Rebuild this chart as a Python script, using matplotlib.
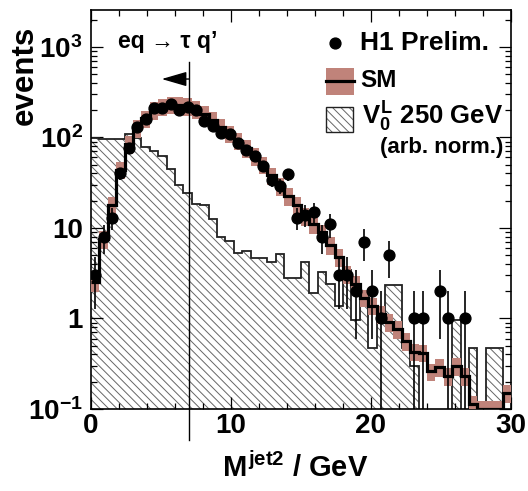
import numpy as np
import matplotlib
matplotlib.use("Agg")
import matplotlib.pyplot as plt
from matplotlib.ticker import FixedLocator, FixedFormatter, MultipleLocator, LogLocator, NullFormatter
from matplotlib.patches import Rectangle
from matplotlib.lines import Line2D

plt.rcParams['font.family'] = ['Liberation Sans', 'DejaVu Sans']
plt.rcParams['font.weight'] = 'bold'
plt.rcParams['mathtext.fontset'] = 'custom'
plt.rcParams['mathtext.rm'] = 'Liberation Sans:bold'
plt.rcParams['mathtext.bf'] = 'Liberation Sans:bold'
plt.rcParams['mathtext.it'] = 'Liberation Sans:bold'
plt.rcParams['hatch.linewidth'] = 0.7

# 50 bins of 0.6 GeV from 0 to 30
edges = np.linspace(0, 30, 51)
centers = 0.5 * (edges[:-1] + edges[1:])

# H1 preliminary data (events per bin)
data = [3, 8, 13, 40, 76, 130, 160, 210, 210, 232,
        200, 215, 200, 150, 132, 113, 109, 86, 73, 62,
        48, 34, 29, 39, 13, 14, 15, 8, 11, 3,
        3, 2, 7, 2, 1, 5, 0, 0, 1, 1,
        0, 2, 1, 0, 1, 0, 0, 0, 0, 0]

# SM expectation
sm = [2.5, 7.5, 18, 44, 85, 127, 162, 200, 220, 230,
      230, 222, 205, 180, 155, 130, 110, 92, 76, 62,
      50, 38, 29, 22.5, 18, 13.5, 11, 8.9, 6.5, 4.8,
      3.1, 2.4, 1.7, 1.39, 1.12, 0.91, 0.77, 0.56, 0.43, 0.42,
      0.26, 0.29, 0.23, 0.3, 0.23, 0.115, 0.1, 0.1, 0.1, 0.15]
sm_rel_unc = 0.22

# V0L 250 GeV signal (arbitrary normalisation)
signal = [98, 96, 96, 96, 109, 98, 78, 70, 62, 45,
          30, 24, 18.5, 18, 12.5, 7.9, 7.1, 5.3, 5.5, 4.6,
          4.6, 4.2, 5.2, 2.8, 2.8, 4.2, 1.9, 3.3, 2.4, 1.39,
          3.4, 0.95, 2.0, 0.47, 1.0, 2.35, 2.35, 0.47, 0.3, 0,
          0, 0, 0, 0.95, 0, 0.47, 0, 0.47, 0.47, 0]

cut = 7.0
brown = '#c0837a'

fig = plt.figure(figsize=(5.28, 4.91), dpi=100)
ax = fig.add_axes([91/528, 1 - 409/491, 420/528, 399/491])
ax.set_yscale('log')
ax.set_xlim(0, 30)
ax.set_ylim(0.1, 2550)

data = np.array(data, float)
sm = np.array(sm, float)
signal = np.array(signal, float)

# signal: hatched fill + outline
ax.stairs(signal, edges, baseline=1e-3, fill=True, hatch='\\\\\\\\',
          facecolor='none', edgecolor='#666666', linewidth=0, zorder=1)
ax.stairs(signal, edges, baseline=None, color='#222222', lw=1.3, zorder=2)

# SM band + line
lo = sm * (1 - sm_rel_unc)
hi = sm * (1 + sm_rel_unc)
ax.bar(centers, hi - lo, width=0.6, bottom=lo, color=brown, linewidth=0, zorder=3)
ax.stairs(sm, edges, baseline=None, color='black', lw=2.3, zorder=4)

# data points
m = data > 0
ax.errorbar(centers[m], data[m], yerr=np.sqrt(data[m]), fmt='o', color='black',
            ms=7.8, elinewidth=1.2, capsize=0, zorder=5)

# cut line and arrow
tr = ax.get_xaxis_transform()
ax.plot([cut, cut], [-0.078, 0.870], transform=tr, color='black', lw=1.0,
        clip_on=False, zorder=6)
ax.annotate('', xy=(5.05, 0.827), xytext=(cut, 0.827), xycoords=tr, textcoords=tr,
            arrowprops=dict(arrowstyle='-|>,head_length=1.55,head_width=0.45',
                            color='black', lw=1.0, shrinkA=0, shrinkB=0), zorder=6)
ax.text(0.064, 0.92, "eq \u2192 \u03c4 q\u2019", transform=ax.transAxes,
        fontsize=16.5, fontweight='bold', ha='left', va='center')

# legend drawn by hand
ta = ax.transAxes
ax.add_line(Line2D([0.581], [0.917], marker='o', ms=7.8, color='black', transform=ta))
ax.text(0.640, 0.917, 'H1 Prelim.', transform=ta, fontsize=19, ha='left', va='center')
ax.add_patch(Rectangle((0.560, 0.787), 0.066, 0.068, transform=ta, color=brown, lw=0))
ax.add_line(Line2D([0.560, 0.626], [0.821, 0.821], color='black', lw=2.3, transform=ta))
ax.text(0.640, 0.823, 'SM', transform=ta, fontsize=17.5, ha='left', va='center')
ax.add_patch(Rectangle((0.560, 0.694), 0.064, 0.063, transform=ta, facecolor='white',
                       edgecolor='#666666', hatch='\\\\\\\\', lw=0))
ax.add_patch(Rectangle((0.560, 0.694), 0.064, 0.063, transform=ta, fill=False,
                       edgecolor='#222222', lw=1.0))
ax.text(0.645, 0.732, r'$V_0^L$ 250 GeV', transform=ta, fontsize=18.5, ha='left', va='center')
ax.text(0.981, 0.655, '(arb. norm.)', transform=ta, fontsize=16, ha='right', va='center')

# axes styling
ax.xaxis.set_major_locator(MultipleLocator(10))
ax.xaxis.set_minor_locator(MultipleLocator(2))
ax.yaxis.set_major_locator(FixedLocator([0.1, 1, 10, 100, 1000]))
ax.yaxis.set_major_formatter(FixedFormatter([r'$10^{-1}$', '1', '10', r'$10^{2}$', r'$10^{3}$']))
ax.yaxis.set_minor_locator(LogLocator(base=10, subs=np.arange(2, 10)))
ax.yaxis.set_minor_formatter(NullFormatter())
ax.tick_params(which='both', direction='in', top=True, right=True, width=0.9)
ax.tick_params(which='major', length=8.5, labelsize=20)
ax.tick_params(which='minor', length=4.5)
ax.tick_params(axis='x', pad=3)
ax.tick_params(axis='y', pad=6)
for lab in ax.get_xticklabels() + ax.get_yticklabels():
    lab.set_fontweight('bold')
for s in ax.spines.values():
    s.set_linewidth(1.2)

ax.set_xlabel(r'$M^{jet2}$ / GeV', fontsize=21, fontweight='bold')
ax.xaxis.set_label_coords(0.486, -0.148)
ax.xaxis.label.set_va('center')
ax.set_ylabel('events', fontsize=22.5, fontweight='bold')
ax.yaxis.set_label_coords(-0.157, 0.837)
ax.yaxis.label.set_va('center')
ax.yaxis.label.set_ha('center')

fig.savefig('out.png', dpi=100)
